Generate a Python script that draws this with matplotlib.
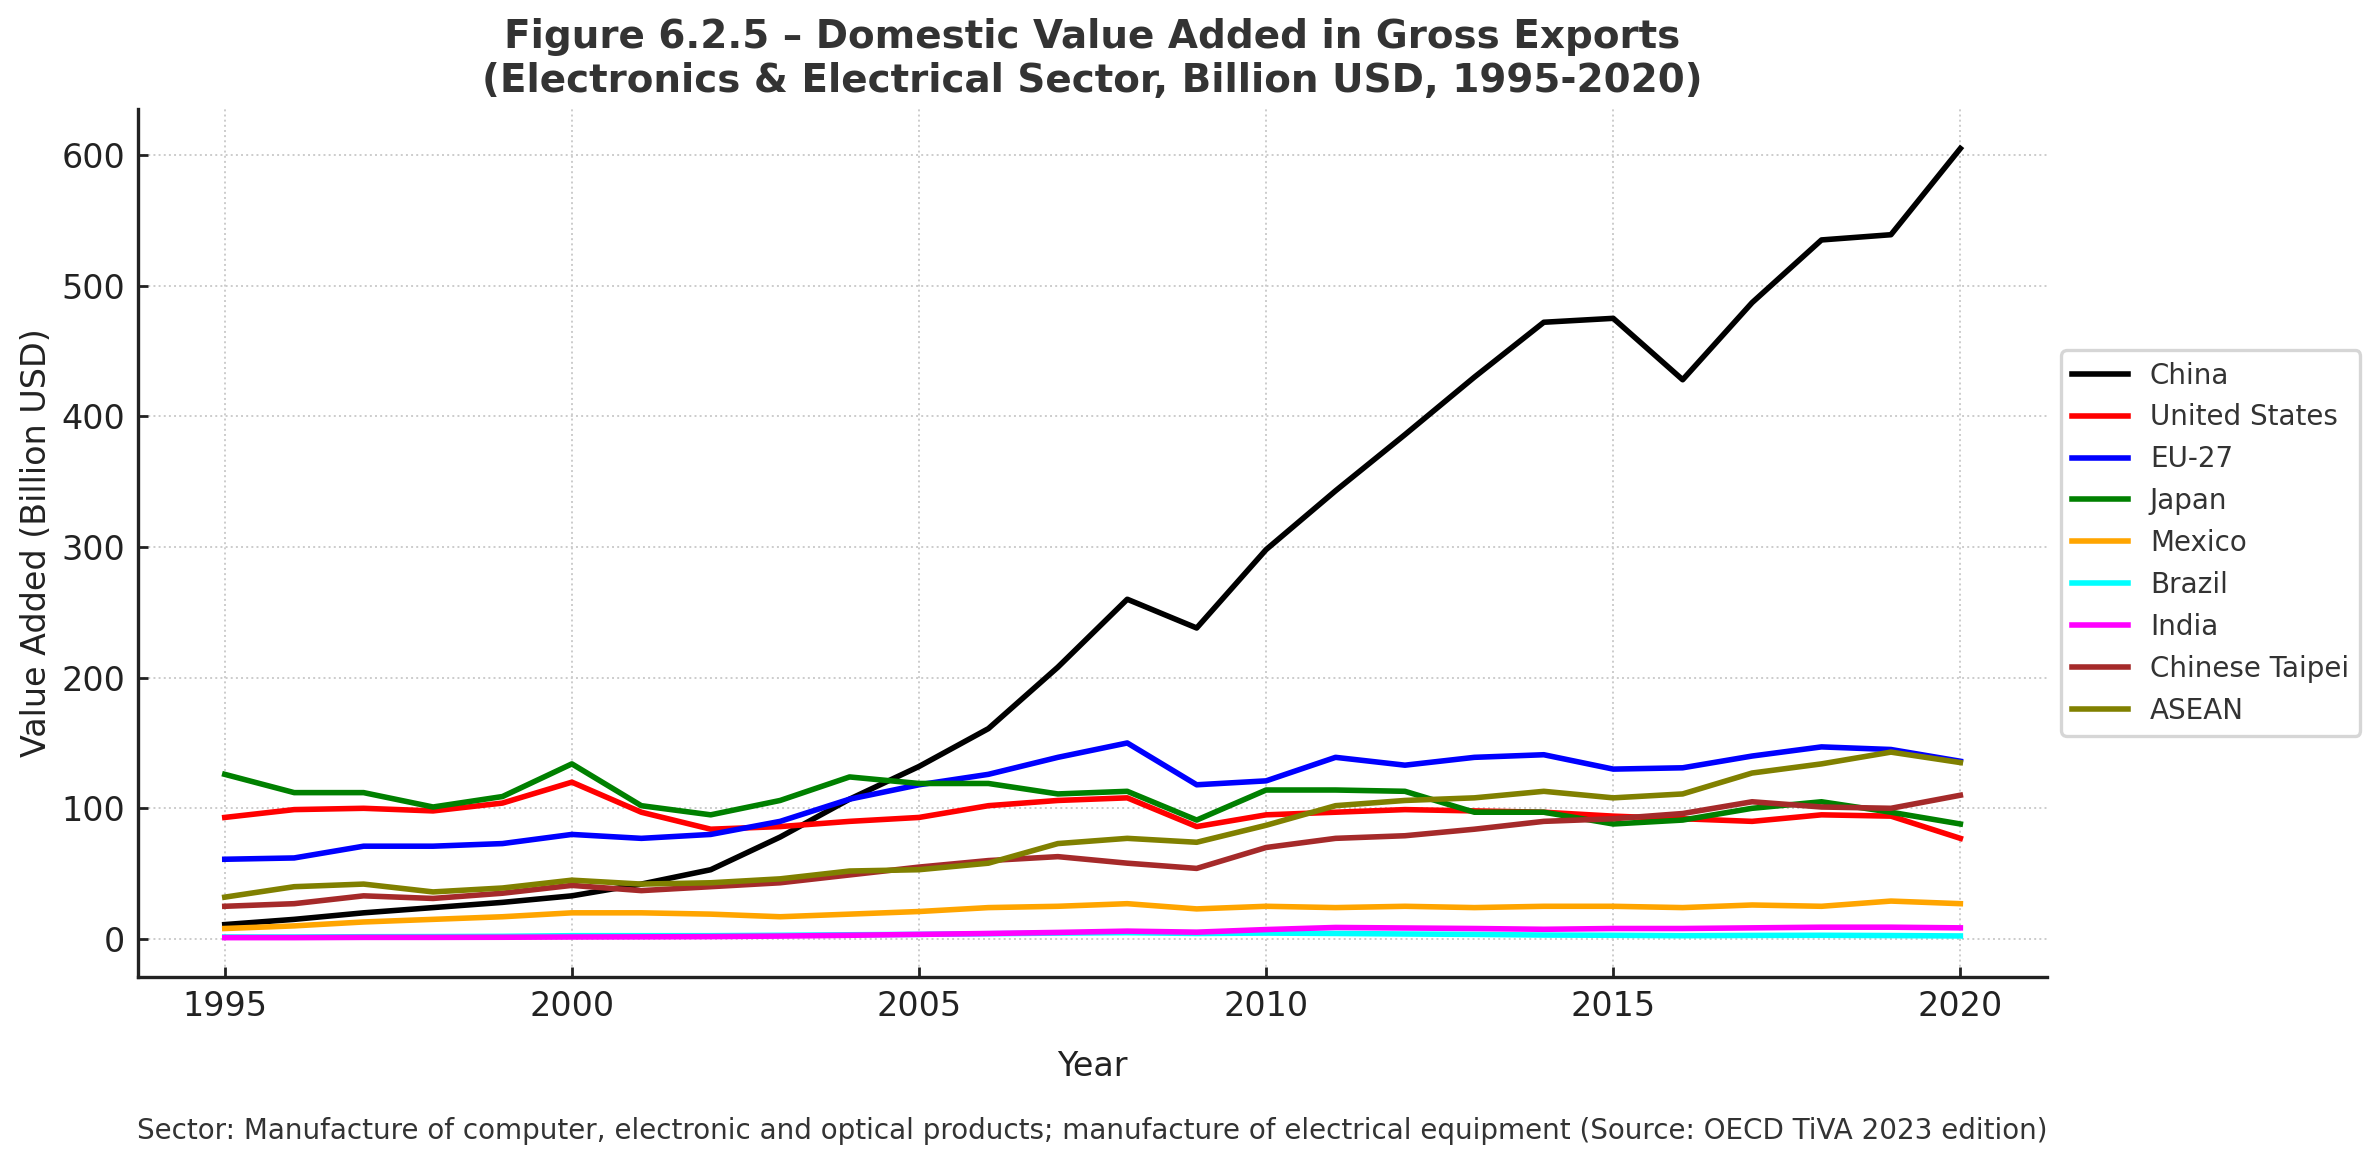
import matplotlib
matplotlib.use("Agg")
import matplotlib.pyplot as plt

years = list(range(1995, 2021))

china = [11, 15, 20, 24, 28, 33, 42, 53, 78, 107, 132, 161, 208, 260, 238, 298,
         343, 386, 430, 472, 475, 428, 487, 535, 539, 605]
united_states = [93, 99, 100, 98, 104, 120, 97, 84, 86, 90, 93, 102, 106, 108, 86, 95,
                 97, 99, 98, 97, 94, 92, 90, 95, 94, 77]
eu27 = [61, 62, 71, 71, 73, 80, 77, 80, 90, 107, 118, 126, 139, 150, 118, 121,
        139, 133, 139, 141, 130, 131, 140, 147, 145, 136]
japan = [126, 112, 112, 101, 109, 134, 102, 95, 106, 124, 119, 119, 111, 113, 91, 114,
         114, 113, 97, 97, 88, 91, 100, 105, 97, 88]
mexico = [8, 10, 13, 15, 17, 20, 20, 19, 17, 19, 21, 24, 25, 27, 23, 25,
          24, 25, 24, 25, 25, 24, 26, 25, 29, 27]
brazil = [1.5, 1.5, 1.7, 1.8, 2.0, 2.5, 2.5, 2.5, 2.8, 3.2, 3.5, 4.0, 4.5, 4.8, 4.2, 4.5,
          4.2, 3.8, 3.5, 3.0, 2.8, 2.5, 2.7, 2.8, 2.6, 2.3]
india = [1.0, 1.0, 1.2, 1.2, 1.3, 1.5, 1.6, 1.8, 2.2, 2.8, 3.5, 4.2, 5.0, 6.0, 5.2, 7.2,
         8.8, 8.4, 8.0, 7.4, 8.0, 8.0, 8.5, 9.0, 9.0, 8.5]
chinese_taipei = [25, 27, 33, 31, 35, 41, 37, 40, 43, 49, 55, 60, 63, 58, 54, 70,
                  77, 79, 84, 90, 92, 96, 105, 101, 100, 110]
asean = [32, 40, 42, 36, 39, 45, 42, 43, 46, 52, 53, 58, 73, 77, 74, 87,
         102, 106, 108, 113, 108, 111, 127, 134, 143, 135]

series_names = ["China", "United States", "EU-27", "Japan", "Mexico", "Brazil",
                "India", "Chinese Taipei", "ASEAN"]
series_values = [china, united_states, eu27, japan, mexico, brazil, india,
                 chinese_taipei, asean]
series_colors = ["black", "red", "blue", "green", "orange", "cyan", "magenta",
                 "brown", "olive"]

title = "Figure 6.2.5 – Domestic Value Added in Gross Exports\n(Electronics & Electrical Sector, Billion USD, 1995-2020)"
xlabel = "Year"
ylabel = "Value Added (Billion USD)"
footnote = ("Sector: Manufacture of computer, electronic and optical products; "
            "manufacture of electrical equipment (Source: OECD TiVA 2023 edition)")

plt.rcParams["font.family"] = ["DejaVu Sans"]

fig = plt.figure(figsize=(2379 / 200, 1166 / 200), dpi=200)
ax = fig.add_axes([0.058, 0.162, 0.8025, 0.7445])

for name, vals, col in zip(series_names, series_values, series_colors):
    ax.plot(years, vals, color=col, lw=2, label=name)

ax.set_title(title, fontsize=14, fontweight="bold", color="#333333", pad=6)
ax.set_xlabel(xlabel, fontsize=12, color="#222222", labelpad=10)
ax.set_ylabel(ylabel, fontsize=12, color="#222222", labelpad=3)

ax.set_xticks([1995, 2000, 2005, 2010, 2015, 2020])
ax.set_yticks([0, 100, 200, 300, 400, 500, 600])
ax.tick_params(axis="both", labelsize=12, colors="#222222", length=3.6,
               width=1, direction="in", pad=4.5)

for s in ["top", "right"]:
    ax.spines[s].set_visible(False)
for s in ["left", "bottom"]:
    ax.spines[s].set_color("#222222")
    ax.spines[s].set_linewidth(1.2)

ax.grid(True, linestyle=":", color="#cccccc", linewidth=0.7)
ax.set_axisbelow(True)

leg = ax.legend(loc="center left", bbox_to_anchor=(1.0, 0.5), fontsize=10,
                frameon=True, fancybox=True, handlelength=2.0)
leg.get_frame().set_edgecolor("#cccccc")
leg.get_frame().set_linewidth(1.2)
for t in leg.get_texts():
    t.set_color("#333333")

fig.text(0.459, 0.030, footnote, ha="center", va="center", fontsize=10,
         color="#333333")

fig.savefig("out.png", dpi=200)
